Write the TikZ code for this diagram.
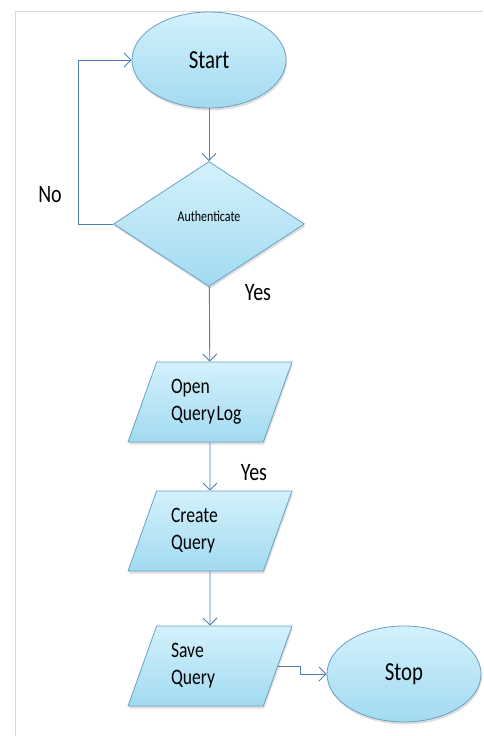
\documentclass[tikz,border=0pt]{standalone}
\usepackage{fontspec}
\setmainfont{Carlito}[FakeStretch=0.8]
\usetikzlibrary{shapes.geometric,arrows.meta,shadows}

\definecolor{shapeline}{HTML}{6A9FC6}
\definecolor{flowline}{HTML}{4F7DB5}
\definecolor{filltop}{HTML}{D3F1FC}
\definecolor{fillbottom}{HTML}{A2DAF0}

\begin{document}
\begin{tikzpicture}[x=1pt,y=-1pt,
    box/.style={draw=shapeline,line width=0.8pt,top color=filltop,bottom color=fillbottom,
        drop shadow={shadow xshift=1pt,shadow yshift=-2.5pt,opacity=0.25}},
    terminal/.style={box,ellipse,minimum width=154pt,minimum height=96pt,inner sep=0pt,
        font=\fontsize{26}{30}\selectfont},
    decision/.style={box,diamond,minimum width=191pt,minimum height=125pt,aspect=1.53,inner sep=0pt},
    iobox/.style={box,trapezium,trapezium left angle=65,trapezium right angle=115,
        trapezium stretches=true,minimum width=164pt,minimum height=80pt,inner sep=0pt,
        text width=78pt,align=left,font=\fontsize{22}{27}\selectfont},
    flow/.style={draw=flowline,line width=0.9pt,-{Straight Barb[length=7pt,width=14pt]}},
    answer/.style={font=\fontsize{25}{30}\selectfont}]
    \useasboundingbox (0,0) rectangle (483,736);
    % frame of the page
    \draw[black!15] (15,736) -- (15,11) -- (483,11);

    \node[terminal] (start) at (209,60) {Start};
    \node[decision,label={[font=\fontsize{15}{18}\selectfont,yshift=8pt]center:Authenticate}] (auth) at (209,224) {};
    \node[iobox] (open) at (210,402) {Open\\Query\hspace{1.5pt}Log};
    \node[iobox] (create) at (210,531) {Create\\Query};
    \node[iobox] (save) at (210,666) {Save\\Query};
    \node[terminal] (stop) at (404,674) {Stop};

    \draw[flow] (start) -- (auth);
    \draw[flow] (auth.west) -- ++(-35,0) |- (start.west);
    \draw[flow] (auth) -- (open);
    \draw[flow] (open) -- (create);
    \draw[flow] (create) -- (save);
    \draw[flow] (save.east) -- ++(22,0) |- (stop.west);

    \node[answer] (no) at (50,195) {No};
    \node[answer] (yes1) at (258,293) {Yes};
    \node[answer] (yes2) at (254,473) {Yes};
\end{tikzpicture}
\end{document}
